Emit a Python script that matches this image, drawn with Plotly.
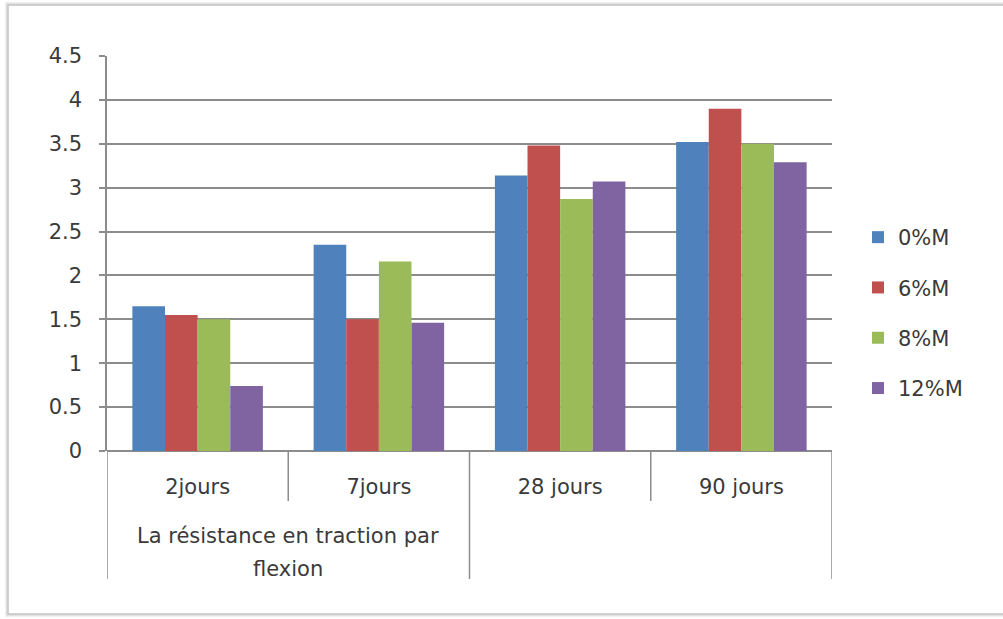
import plotly.graph_objects as go

# Flexural tensile strength by curing age and replacement rate
categories = ["2jours", "7jours", "28 jours", "90 jours"]
series_names = ["0%M", "6%M", "8%M", "12%M"]
values_0 = [1.65, 2.35, 3.14, 3.52]
values_6 = [1.55, 1.50, 3.48, 3.90]
values_8 = [1.50, 2.16, 2.87, 3.50]
values_12 = [0.74, 1.46, 3.07, 3.29]
y_ticks = [0, 0.5, 1, 1.5, 2, 2.5, 3, 3.5, 4, 4.5]
group_label_lines = ["La résistance en traction par", "flexion"]

colors = ["#4F81BD", "#C0504D", "#9BBB59", "#8064A2"]
FONT = "DejaVu Sans"
FS = 21
TEXT = "#3a3a3a"
AXIS = "#8c8c8c"

W, H = 1003, 619
L, R, T, B = 107, 832, 56, 451  # plot area in pixels


def px_x(p):
    return (p - L) / (R - L)


def px_y(p):
    return (B - p) / (B - T)


fig = go.Figure()
for name, vals, col in zip(series_names, [values_0, values_6, values_8, values_12], colors):
    fig.add_trace(go.Bar(
        x=categories, y=vals, name=name, legendgroup=name,
        marker=dict(color=col, line=dict(width=0)),
    ))

shapes = []
# category dividers below the axis
for i, xv in enumerate([-0.5, 0.5, 1.5, 2.5, 3.5]):
    bottom = 579 if i in (0, 2, 4) else 501
    shapes.append(dict(type="line", xref="x", yref="paper",
                       x0=xv, x1=xv, y0=0, y1=px_y(bottom),
                       line=dict(color=AXIS, width=1.5)))
# outer frame with a soft shadow
for off, c in [(2, "#ececec"), (1, "#dcdcdc"), (0, "#c4c4c4")]:
    shapes.append(dict(type="rect", xref="paper", yref="paper",
                       x0=px_x(8 - off), x1=px_x(1015),
                       y0=px_y(614 + off), y1=px_y(5 - off),
                       line=dict(color=c, width=1.5), layer="below"))

annotations = [
    dict(text=txt, x=0.5, xref="x", y=px_y(yc), yref="paper",
         showarrow=False, xanchor="center", yanchor="middle",
         font=dict(family=FONT, size=FS, color=TEXT))
    for txt, yc in zip(group_label_lines, [536, 569])
]

fig.update_layout(
    width=W, height=H,
    margin=dict(l=L, r=W - R, t=T, b=H - B, pad=0),
    paper_bgcolor="white", plot_bgcolor="white",
    barmode="group", bargap=0.28, bargroupgap=0,
    font=dict(family=FONT, size=FS, color=TEXT),
    showlegend=True,
    legend=dict(x=px_x(858), xanchor="left", y=px_y(313), yanchor="middle",
                font=dict(family=FONT, size=FS, color=TEXT),
                tracegroupgap=20, itemwidth=30, bgcolor="rgba(0,0,0,0)"),
    xaxis=dict(type="category", range=[-0.5, 3.5], showgrid=False,
               showline=False, ticks="", ticklabelstandoff=21,
               tickfont=dict(family=FONT, size=FS, color=TEXT), fixedrange=True),
    yaxis=dict(range=[0, 4.5], tickvals=y_ticks,
               ticktext=[("%g" % v) for v in y_ticks],
               showgrid=True, gridcolor=AXIS, gridwidth=1.5,
               zeroline=True, zerolinecolor=AXIS, zerolinewidth=1.5,
               showline=True, linecolor=AXIS, linewidth=1.5,
               ticks="outside", ticklen=6, tickcolor=AXIS, tickwidth=1.5,
               ticklabelstandoff=13,
               tickfont=dict(family=FONT, size=FS, color=TEXT), fixedrange=True),
    shapes=shapes,
    annotations=annotations,
)

fig.write_html("out.html")
